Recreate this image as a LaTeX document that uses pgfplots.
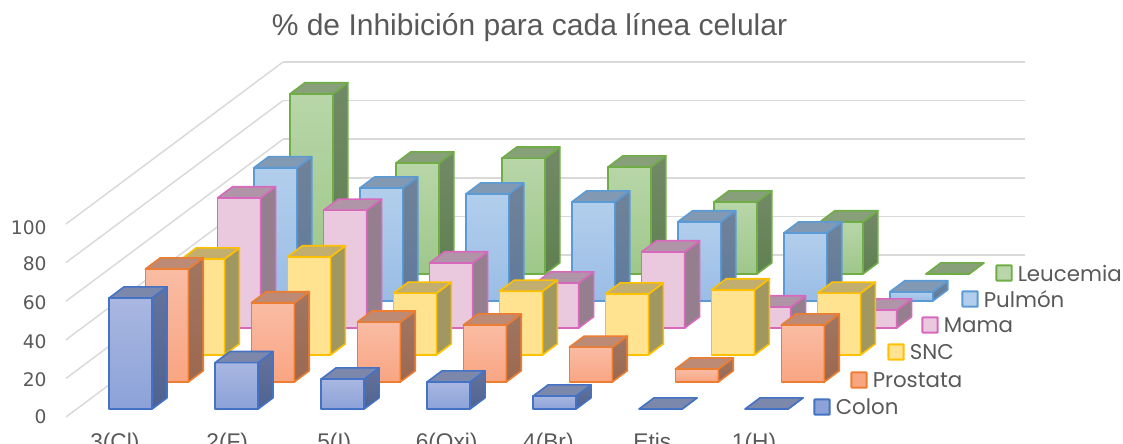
\documentclass[border=0pt]{standalone}
\usepackage{pgfplots}
\pgfplotsset{compat=1.18}
\usepackage{fontspec}
\setmainfont{Liberation Sans}
\newfontfamily\legfont{Poppins}
\newfontfamily\numfont{DejaVu Sans}
\definecolor{grid}{HTML}{D9D9D9}
\definecolor{txt}{HTML}{595959}
% one reference pixel
\newcommand\px{0.75pt}
\newcommand\onebar[9]{% cat, series, value, edge, fronttop, frontbot, sidetop, sidebot, topface
  \pgfmathsetmacro\xa{#1+0.305}\pgfmathsetmacro\xb{#1+0.711}
  \pgfmathsetmacro\ya{#2+0.30}\pgfmathsetmacro\yb{#2+0.71}
  \addplot3[draw=#4,line width=1.2pt,line join=round,top color=#5,bottom color=#6] coordinates {(\xa,\ya,0)(\xb,\ya,0)(\xb,\ya,#3)(\xa,\ya,#3)} --cycle;
  \addplot3[draw=#4,line width=1.2pt,line join=round,top color=#7,bottom color=#8] coordinates {(\xb,\ya,0)(\xb,\yb,0)(\xb,\yb,#3)(\xb,\ya,#3)} --cycle;
  \addplot3[draw=#4,line width=1.2pt,line join=round,fill=#9] coordinates {(\xa,\ya,#3)(\xb,\ya,#3)(\xb,\yb,#3)(\xa,\yb,#3)} --cycle;
}
\definecolor{eC}{HTML}{4472C4}\definecolor{eP}{HTML}{ED7D31}\definecolor{eS}{HTML}{FFC000}
\definecolor{eM}{HTML}{D768BC}\definecolor{eU}{HTML}{5B9BD5}\definecolor{eL}{HTML}{70AD47}
\definecolor{fCa}{HTML}{A9B7E1}\definecolor{fCb}{HTML}{8CA2D8}\definecolor{sCa}{HTML}{64739C}\definecolor{sCb}{HTML}{4F6290}\definecolor{tC}{HTML}{7B88AC}
\definecolor{fPa}{HTML}{F9BCA4}\definecolor{fPb}{HTML}{F9A582}\definecolor{sPa}{HTML}{A07662}\definecolor{sPb}{HTML}{9C6850}\definecolor{tP}{HTML}{BC8A75}
\definecolor{fSa}{HTML}{FFE391}\definecolor{fSb}{HTML}{FFE391}\definecolor{sSa}{HTML}{A19760}\definecolor{sSb}{HTML}{A19760}\definecolor{tS}{HTML}{C2AE6E}
\definecolor{fMa}{HTML}{EAC9DF}\definecolor{fMb}{HTML}{EAC9DF}\definecolor{sMa}{HTML}{957E8D}\definecolor{sMb}{HTML}{957E8D}\definecolor{tM}{HTML}{B095A8}
\definecolor{fUa}{HTML}{B2CEEC}\definecolor{fUb}{HTML}{9ABDE5}\definecolor{sUa}{HTML}{70829A}\definecolor{sUb}{HTML}{5F7A9B}\definecolor{tU}{HTML}{8299B4}
\definecolor{fLa}{HTML}{B8D6A8}\definecolor{fLb}{HTML}{9EC78A}\definecolor{sLa}{HTML}{728A67}\definecolor{sLb}{HTML}{5F8050}\definecolor{tL}{HTML}{87A07A}
\newcommand\barrow[9]{%
  \onebar{0}{#1}{#3}{e#2}{f#2a}{f#2b}{s#2a}{s#2b}{t#2}%
  \onebar{1}{#1}{#4}{e#2}{f#2a}{f#2b}{s#2a}{s#2b}{t#2}%
  \onebar{2}{#1}{#5}{e#2}{f#2a}{f#2b}{s#2a}{s#2b}{t#2}%
  \onebar{3}{#1}{#6}{e#2}{f#2a}{f#2b}{s#2a}{s#2b}{t#2}%
  \onebar{4}{#1}{#7}{e#2}{f#2a}{f#2b}{s#2a}{s#2b}{t#2}%
  \onebar{5}{#1}{#8}{e#2}{f#2a}{f#2b}{s#2a}{s#2b}{t#2}%
  \onebar{6}{#1}{#9}{e#2}{f#2a}{f#2b}{s#2a}{s#2b}{t#2}%
}
\newcommand\legitem[5]{% x of key, y of key (from top), name, edge, fill
  \node[draw=#4,fill=#5,line width=1.4pt,minimum size=11.5pt,inner sep=0pt,rounded corners=0.5pt] at (#1*\px,{(443-#2)*\px}) {};
  \node[anchor=west,inner sep=0pt,text=txt,font=\legfont\fontsize{16}{18}\selectfont] at ({(#1+13.5)*\px},{(443-#2)*\px}) {#3};
}
\begin{document}
\begin{tikzpicture}
\useasboundingbox (0,0) rectangle (1123*\px,443*\px);
\begin{axis}[
  at={(66*\px,26*\px)},anchor=origin,
  x={(106*\px,0)},y={(36.17*\px,27*\px)},z={(0,1.93*\px)},
  xmin=0,xmax=7,ymin=0,ymax=6,zmin=0,zmax=100,
  clip=false,
  axis line style={draw=none},
  tick style={draw=none},
  ztick={0,20,...,100},
  ytick=\empty,
  xtick={0.47,1.53,2.54,3.6,4.56,5.53,6.5},
  xticklabels={3(Cl),2(F),5(I),6(Oxi),4(Br),Etis,1(H)},
  z grid style={draw=grid,line width=1.1pt},
  zmajorgrids=true,
  /pgf/number format/assume math mode=true,
  tick label style={text=txt},
  x tick label style={font=\fontsize{17}{19}\selectfont,yshift=-8.5pt,xshift=5pt},
  z tick label style={font=\numfont\fontsize{14}{16}\selectfont,xshift=-11pt,yshift=3pt},
]
\barrow{5}{L}{93.3}{57.5}{60}{55.4}{37.3}{27}{0}
\barrow{4}{U}{69}{58.5}{55.4}{51.3}{41}{35.2}{4.7}
\barrow{3}{M}{67.4}{61}{33.7}{23.3}{39.4}{10.9}{9.3}
\barrow{2}{S}{49.7}{50.8}{32}{33}{31.6}{33.7}{32}
\barrow{1}{P}{58.5}{41}{31}{29.5}{18}{6.7}{29.5}
\barrow{0}{C}{57.5}{24}{15.5}{14}{6.7}{0}{0}
\end{axis}
\node[anchor=base,text=txt,font=\fontsize{22.5}{25}\selectfont,inner sep=0pt] at (529.5*\px,{(443-36)*\px}) {\% de Inhibición para cada línea celular};
\legitem{822}{407}{Colon}{eC}{fCb}
\legitem{859}{380}{Prostata}{eP}{fPb}
\legitem{896}{352}{SNC}{eS}{fSa}
\legitem{930}{325}{Mama}{eM}{fMa}
\legitem{970}{299}{Pulmón}{eU}{fUa}
\legitem{1004}{273}{Leucemia}{eL}{fLa}
\end{tikzpicture}
\end{document}
